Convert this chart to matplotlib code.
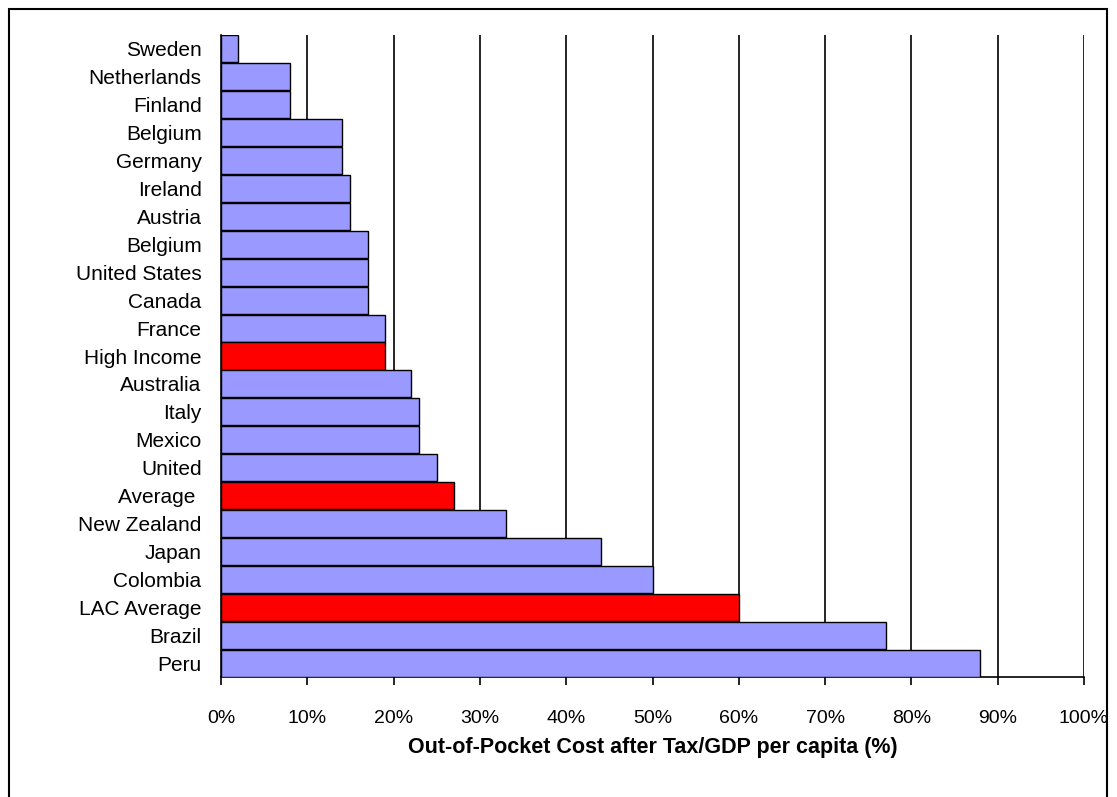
import matplotlib
matplotlib.use("Agg")
import matplotlib.pyplot as plt
from matplotlib.patches import Rectangle

categories = ["Sweden","Netherlands","Finland","Belgium","Germany","Ireland","Austria","Belgium",
              "United States","Canada","France","High Income","Australia","Italy","Mexico","United",
              "Average ","New Zealand","Japan","Colombia","LAC Average","Brazil","Peru"]
values = [2,8,8,14,14,15,15,17,17,17,19,19,22,23,23,25,27,33,44,50,60,77,88]
highlight = {"High Income","Average ","LAC Average"}
xticks = list(range(0,101,10))

plt.rcParams['font.family'] = ['Liberation Sans','DejaVu Sans']
fig = plt.figure(figsize=(11.17,7.97), dpi=100)
ax = fig.add_axes([221/1117, 1-677/797, (1084-221)/1117, (677-35)/797])
n = len(categories)
ypos = list(range(n))[::-1]
colors = ["#FF0000" if c in highlight else "#9999FF" for c in categories]
ax.barh(ypos, values, height=0.97, color=colors, edgecolor="black", linewidth=1, zorder=3)
ax.set_ylim(-0.5, n-0.5)
ax.set_xlim(0,100)
ax.set_yticks(ypos)
ax.set_yticklabels(categories, fontsize=15)
ax.set_xticks(xticks)
ax.set_xticklabels([f"{t}%" for t in xticks], fontsize=14)
for t in xticks[1:]:
    ax.axvline(t, color="black", linewidth=1.2, zorder=1)
for s in ["top","right"]:
    ax.spines[s].set_visible(False)
ax.spines["left"].set_linewidth(1.2)
ax.spines["bottom"].set_linewidth(1.2)
ax.tick_params(axis="y", length=0, pad=14)
ax.tick_params(axis="x", length=6, width=1.2, direction="out", pad=18)
ax.set_xlabel("Out-of-Pocket Cost after Tax/GDP per capita (%)", fontsize=15.5, fontweight="bold", labelpad=7)
fig.patches.append(Rectangle((9/1117, -20/797), 1098/1117, 808/797, transform=fig.transFigure,
                             fill=False, edgecolor="black", linewidth=1.5))
fig.savefig("out.png", dpi=100)
